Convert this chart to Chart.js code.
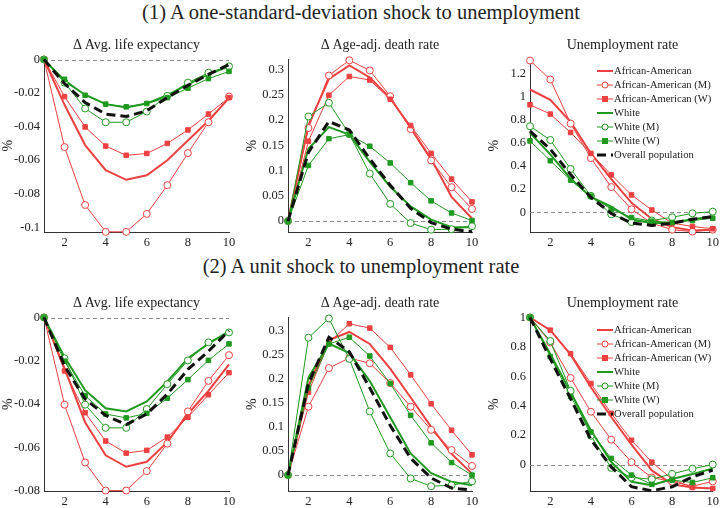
<!DOCTYPE html>
<html>
<head>
<meta charset="utf-8">
<script src="https://cdn.jsdelivr.net/npm/chart.js@4/dist/chart.umd.min.js"></script>
<style>
body { margin: 0; width: 722px; height: 508px; background: #fff; position: relative; overflow: hidden; font-family: "Liberation Serif", "DejaVu Serif", serif; color: #222; }
canvas { position: absolute; }
.sec { position: absolute; left: 0; width: 722px; text-align: center; font-size: 20.5px; line-height: 24px; }
.ttl { position: absolute; width: 240px; margin-left: -120px; text-align: center; font-size: 14px; line-height: 16px; white-space: nowrap; }
.leg { position: absolute; font-size: 10.6px; line-height: 14px; white-space: nowrap; }
.leg div { height: 14px; display: flex; align-items: center; }
.leg svg { margin-right: 1px; }
</style>
</head>
<body>
<div class="sec" style="top:0px">(1) A one-standard-deviation shock to unemployment</div>
<div class="sec" style="top:254px">(2) A unit shock to unemployment rate</div>

<script>
const periods = [1, 2, 3, 4, 5, 6, 7, 8, 9, 10];
const xTicks = [2, 4, 6, 8, 10];

// (1) one-s.d. shock: life expectancy
const lifeSdAA  = [0, -0.027, -0.051, -0.066, -0.0717, -0.069, -0.060, -0.0483, -0.0365, -0.023];
const lifeSdAAM = [0, -0.0522, -0.0867, -0.1027, -0.1027, -0.092, -0.0749, -0.0558, -0.0374, -0.0221];
const lifeSdAAW = [0, -0.0221, -0.0402, -0.0516, -0.0571, -0.056, -0.050, -0.042, -0.0325, -0.0227];
const lifeSdWh  = [0, -0.0128, -0.021, -0.0266, -0.0286, -0.0262, -0.0213, -0.0148, -0.0089, -0.004];
const lifeSdWhM = [0, -0.0138, -0.0292, -0.0374, -0.0374, -0.031, -0.0217, -0.0138, -0.0079, -0.0041];
const lifeSdWhW = [0, -0.0118, -0.0213, -0.0266, -0.0282, -0.0262, -0.0227, -0.0171, -0.0114, -0.0071];
const lifeSdAll = [0, -0.0144, -0.0256, -0.0325, -0.034, -0.0305, -0.0227, -0.0154, -0.0089, -0.003];
const lifeSdTicks = [-0.1, -0.08, -0.06, -0.04, -0.02, 0];

// (1) one-s.d. shock: death rate
const deathSdAA  = [0, 0.19, 0.281, 0.308, 0.284, 0.243, 0.185, 0.123, 0.048, 0.005];
const deathSdAAM = [0, 0.184, 0.288, 0.318, 0.298, 0.247, 0.182, 0.120, 0.067, 0.024];
const deathSdAAW = [0, 0.158, 0.249, 0.286, 0.279, 0.241, 0.189, 0.134, 0.083, 0.038];
const deathSdWh  = [0, 0.143, 0.186, 0.171, 0.117, 0.068, 0.029, 0.003, -0.012, -0.012];
const deathSdWhM = [0, 0.207, 0.234, 0.172, 0.094, 0.034, -0.004, -0.017, -0.016, -0.010];
const deathSdWhW = [0, 0.110, 0.163, 0.171, 0.148, 0.115, 0.076, 0.040, 0.016, 0.001];
const deathSdAll = [0, 0.136, 0.197, 0.180, 0.123, 0.071, 0.025, -0.003, -0.016, -0.021];
const deathSdTicks = [0, 0.05, 0.1, 0.15, 0.2, 0.25, 0.3];

// (1) one-s.d. shock: unemployment
const unSdAA  = [1.06, 0.97, 0.78, 0.508, 0.289, 0.082, -0.057, -0.128, -0.156, -0.150];
const unSdAAM = [1.31, 1.146, 0.766, 0.468, 0.218, 0.026, -0.094, -0.150, -0.167, -0.150];
const unSdAAW = [0.928, 0.848, 0.689, 0.508, 0.323, 0.150, 0.020, -0.094, -0.122, -0.142];
const unSdWh  = [0.686, 0.50, 0.29, 0.133, 0.048, -0.06, -0.094, -0.088, -0.06, -0.037];
const unSdWhM = [0.743, 0.624, 0.374, 0.142, -0.017, -0.085, -0.071, -0.043, -0.009, 0.006];
const unSdWhW = [0.616, 0.445, 0.278, 0.139, 0.028, -0.045, -0.077, -0.088, -0.071, -0.051];
const unSdAll = [0.70, 0.545, 0.326, 0.128, -0.009, -0.094, -0.113, -0.094, -0.06, -0.037];
const unSdTicks = [0, 0.2, 0.4, 0.6, 0.8, 1, 1.2];

// (2) unit shock: life expectancy
const lifeUAA  = [0, -0.0235, -0.0484, -0.0637, -0.069, -0.0667, -0.0576, -0.0446, -0.0339, -0.0217];
const lifeUAAM = [0, -0.0403, -0.067, -0.080, -0.080, -0.071, -0.0583, -0.0434, -0.0293, -0.0174];
const lifeUAAW = [0, -0.0247, -0.044, -0.0571, -0.0627, -0.0614, -0.0553, -0.0461, -0.0357, -0.0255];
const lifeUWh  = [0, -0.0183, -0.0336, -0.042, -0.0434, -0.0388, -0.0296, -0.0189, -0.0121, -0.0064];
const lifeUWhM = [0, -0.0189, -0.0403, -0.051, -0.051, -0.0423, -0.0308, -0.0198, -0.0115, -0.0069];
const lifeUWhW = [0, -0.0202, -0.0362, -0.0446, -0.0464, -0.0443, -0.0373, -0.0287, -0.0198, -0.0122];
const lifeUAll = [0, -0.0224, -0.0377, -0.0453, -0.0495, -0.0446, -0.0354, -0.024, -0.0156, -0.0061];
const lifeUTicks = [-0.08, -0.06, -0.04, -0.02, 0];

// (2) unit shock: death rate
const deathUAA  = [0, 0.185, 0.28, 0.297, 0.272, 0.221, 0.161, 0.10, 0.044, 0.003];
const deathUAAM = [0, 0.142, 0.222, 0.243, 0.232, 0.191, 0.142, 0.094, 0.052, 0.019];
const deathUAAW = [0, 0.172, 0.275, 0.314, 0.305, 0.265, 0.208, 0.148, 0.093, 0.042];
const deathUWh  = [0, 0.202, 0.273, 0.253, 0.195, 0.12, 0.045, 0.004, -0.014, -0.021];
const deathUWhM = [0, 0.285, 0.325, 0.241, 0.132, 0.045, -0.007, -0.023, -0.021, -0.013];
const deathUWhW = [0, 0.181, 0.272, 0.286, 0.247, 0.19, 0.124, 0.067, 0.026, 0.0];
const deathUAll = [0, 0.19, 0.286, 0.256, 0.181, 0.103, 0.035, -0.006, -0.027, -0.031];
const deathUTicks = [0, 0.05, 0.1, 0.15, 0.2, 0.25, 0.3];

// (2) unit shock: unemployment
const unUAA  = [1, 0.914, 0.747, 0.526, 0.323, 0.135, -0.04, -0.135, -0.156, -0.163];
const unUAAM = [1, 0.83, 0.589, 0.359, 0.169, 0.016, -0.088, -0.117, -0.147, -0.115];
const unUAAW = [1, 0.914, 0.754, 0.551, 0.348, 0.165, 0.016, -0.10, -0.156, -0.163];
const unUWh  = [1, 0.752, 0.492, 0.232, 0.018, -0.117, -0.14, -0.099, -0.065, -0.027];
const unUWhM = [1, 0.84, 0.501, 0.196, -0.023, -0.088, -0.10, -0.063, -0.029, 0.0];
const unUWhW = [1, 0.734, 0.463, 0.221, 0.041, -0.072, -0.135, -0.106, -0.122, -0.09];
const unUAll = [1, 0.718, 0.447, 0.169, -0.016, -0.151, -0.178, -0.151, -0.084, -0.038];
const unUTicks = [0, 0.2, 0.4, 0.6, 0.8, 1];

const seriesNames = ['African-American', 'African-American (M)', 'African-American (W)',
                     'White', 'White (M)', 'White (W)', 'Overall population'];

const RED = '#ee4040', GREEN = '#1f9a1f', BLACK = '#111';
const SERIF = '"Liberation Serif", "DejaVu Serif", serif';
const styles = [
  { color: RED,   width: 2, marker: false },
  { color: RED,   width: 1, marker: 'circle' },
  { color: RED,   width: 1, marker: 'rect' },
  { color: GREEN, width: 2, marker: false },
  { color: GREEN, width: 1, marker: 'circle' },
  { color: GREEN, width: 1, marker: 'rect' },
  { color: BLACK, width: 3, marker: false, dash: [9, 5] }
];

const panels = [
  { title: '\u0394 Avg. life expectancy', left: 0,   top: 48,  w: 239, h: 201, pr: 10, ymin: -0.1028, ymax: 0,
    yticks: lifeSdTicks, data: [lifeSdAA, lifeSdAAM, lifeSdAAW, lifeSdWh, lifeSdWhM, lifeSdWhW, lifeSdAll] },
  { title: '\u0394 Age-adj. death rate', left: 244, top: 48,  w: 238, h: 201, pr: 10, ymin: -0.0216, ymax: 0.3196,
    yticks: deathSdTicks, data: [deathSdAA, deathSdAAM, deathSdAAW, deathSdWh, deathSdWhM, deathSdWhW, deathSdAll] },
  { title: 'Unemployment rate', left: 486, top: 48,  w: 236, h: 201, pr: 7, ymin: -0.17, ymax: 1.319,
    yticks: unSdTicks, data: [unSdAA, unSdAAM, unSdAAW, unSdWh, unSdWhM, unSdWhW, unSdAll], legendTop: 64 },
  { title: '\u0394 Avg. life expectancy', left: 0,   top: 306, w: 239, h: 202, pr: 10, ymin: -0.0802, ymax: 0,
    yticks: lifeUTicks, data: [lifeUAA, lifeUAAM, lifeUAAW, lifeUWh, lifeUWhM, lifeUWhW, lifeUAll] },
  { title: '\u0394 Age-adj. death rate', left: 244, top: 306, w: 238, h: 202, pr: 10, ymin: -0.033, ymax: 0.327,
    yticks: deathUTicks, data: [deathUAA, deathUAAM, deathUAAW, deathUWh, deathUWhM, deathUWhW, deathUAll] },
  { title: 'Unemployment rate', left: 486, top: 306, w: 236, h: 202, pr: 7, ymin: -0.18, ymax: 1.0,
    yticks: unUTicks, data: [unUAA, unUAAM, unUAAW, unUWh, unUWhM, unUWhW, unUAll], legendTop: 323 }
];

const Y_W = 44, X_H = 17, PAD_TOP = 10;

const zeroLine = {
  id: 'zeroLine',
  beforeDatasetsDraw(chart) {
    const y = chart.scales.y.getPixelForValue(0);
    const a = chart.chartArea;
    const ctx = chart.ctx;
    ctx.save();
    ctx.strokeStyle = '#8c8c8c';
    ctx.lineWidth = 1;
    ctx.setLineDash([4, 3]);
    ctx.beginPath();
    ctx.moveTo(a.left, Math.round(y) + 0.5);
    ctx.lineTo(a.right, Math.round(y) + 0.5);
    ctx.stroke();
    ctx.restore();
  }
};

function fmt(v) { return String(+v.toFixed(4)); }

function legendIcon(s) {
  let mk = '';
  if (s.marker === 'circle') mk = `<circle cx="8" cy="5" r="3" fill="#fff" stroke="${s.color}" stroke-width="1"/>`;
  if (s.marker === 'rect') mk = `<rect x="5" y="2" width="6" height="6" fill="${s.color}"/>`;
  const dash = s.dash ? ` stroke-dasharray="9 5"` : '';
  return `<svg width="16" height="10"><line x1="0" y1="5" x2="16" y2="5" stroke="${s.color}" stroke-width="${s.width}"${dash}/>${mk}</svg>`;
}

panels.forEach((p, i) => {
  const cv = document.createElement('canvas');
  cv.width = p.w; cv.height = p.h;
  cv.style.left = p.left + 'px'; cv.style.top = p.top + 'px';
  document.body.appendChild(cv);

  const plotLeft = p.left + Y_W, plotRight = p.left + p.w - p.pr;
  const t = document.createElement('div');
  t.className = 'ttl';
  t.textContent = p.title;
  t.style.left = ((plotLeft + plotRight) / 2) + 'px';
  t.style.top = (p.top - 11) + 'px';
  document.body.appendChild(t);

  const datasets = p.data.map((d, k) => {
    const s = styles[k];
    return {
      label: seriesNames[k],
      data: d,
      borderColor: s.color,
      borderWidth: s.width,
      borderDash: s.dash || [],
      backgroundColor: s.marker === 'circle' ? '#fff' : s.color,
      pointBorderColor: s.color,
      pointBorderWidth: 1,
      pointStyle: s.marker || 'circle',
      pointRadius: s.marker === 'circle' ? 3.5 : (s.marker === 'rect' ? 3.2 : 0),
      tension: 0,
      clip: false,
      order: 7 - k
    };
  });

  new Chart(cv, {
    type: 'line',
    data: { labels: periods, datasets },
    options: {
      responsive: false,
      animation: false,
      devicePixelRatio: 1,
      layout: { padding: { top: PAD_TOP, right: p.pr, left: 0, bottom: 0 } },
      plugins: { legend: { display: false }, tooltip: { enabled: false } },
      scales: {
        x: {
          type: 'linear', min: 1, max: 10,
          afterBuildTicks: sc => { sc.ticks = xTicks.map(v => ({ value: v })); },
          afterFit: sc => { sc.height = X_H; },
          grid: { display: true, drawOnChartArea: false, drawTicks: false },
          border: { display: true, color: '#333', width: 1 },
          ticks: { color: '#222', padding: 3, font: { family: SERIF, size: 12.5 }, maxRotation: 0 }
        },
        y: {
          min: p.ymin, max: p.ymax,
          afterBuildTicks: sc => { sc.ticks = p.yticks.map(v => ({ value: v })); },
          afterFit: sc => { sc.width = Y_W; },
          grid: { display: true, drawOnChartArea: false, drawTicks: false },
          border: { display: true, color: '#333', width: 1 },
          ticks: { color: '#222', padding: 4, font: { family: SERIF, size: 12.5 }, callback: v => fmt(v) },
          title: { display: true, text: '%', color: '#222', padding: 0, font: { family: SERIF, size: 14 } }
        }
      }
    },
    plugins: [zeroLine]
  });

  if (p.legendTop !== undefined) {
    const lg = document.createElement('div');
    lg.className = 'leg';
    lg.style.left = '597px';
    lg.style.top = p.legendTop + 'px';
    lg.innerHTML = seriesNames.map((n, k) => `<div>${legendIcon(styles[k])}<span>${n}</span></div>`).join('');
    document.body.appendChild(lg);
  }
});
</script>
</body>
</html>
